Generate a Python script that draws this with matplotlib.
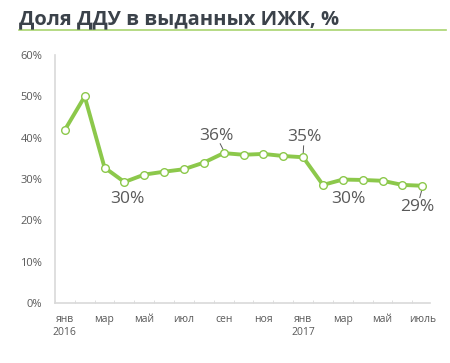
import numpy as np
import matplotlib.pyplot as plt
from matplotlib.lines import Line2D

plt.rcParams['font.family'] = ['Open Sans', 'DejaVu Sans']

months = ["янв\n2016", "фев", "мар", "апр", "май", "июн", "июл", "авг", "сен", "окт", "ноя", "дек",
          "янв\n2017", "фев", "мар", "апр", "май", "июн", "июль"]
share = [41.9, 50.0, 32.8, 29.3, 31.1, 31.8, 32.4, 34.0, 36.3, 35.9, 36.1, 35.6,
         35.3, 28.6, 29.9, 29.8, 29.6, 28.6, 28.4]
# (index, text, dx, dy in data units, leader)
labels = [(3, "30%", 0.15, -4.2, False), (8, "36%", -0.35, 4.1, True),
          (12, "35%", 0.05, 5.0, True), (14, "30%", 0.3, -4.7, False),
          (18, "29%", -0.25, -5.2, True)]

green = "#8cc84b"
grey = "#595959"

fig = plt.figure(figsize=(4.5, 3.63), dpi=100)
ax = fig.add_axes([0.122, 0.165, 0.834, 0.683])

x = np.arange(len(share))
ax.plot(x, share, color=green, lw=2.8, marker="o", ms=5.5, mfc="white", mec=green, mew=1.0, zorder=3)

for i, txt, dx, dy, leader in labels:
    ax.text(i + dx, share[i] + dy, txt, ha="center", va="center", fontsize=12.5, color=grey)
    if leader:
        ax.plot([i + dx * 0.5, i], [share[i] + dy * 0.55, share[i] + 0.6 * np.sign(dy)],
                color=grey, lw=0.7, zorder=2)

ax.set_xlim(-0.5, 18.4)
ax.set_ylim(0, 60)
ax.set_yticks(range(0, 61, 10))
ax.set_yticklabels([f"{v}%" for v in range(0, 61, 10)], fontsize=8, color=grey)
ax.set_xticks(x[::2])
ax.set_xticklabels(months[::2], fontsize=7.5, color=grey, linespacing=1.25)
ax.set_xticks(np.arange(-0.5, 18.5, 1), minor=True)
ax.tick_params(axis="x", which="major", length=0, pad=8)
ax.tick_params(axis="x", which="minor", length=2.5, direction="in", color="#d9d9d9")
ax.tick_params(axis="y", length=0, pad=9)
for s in ["top", "right"]:
    ax.spines[s].set_visible(False)
for s in ["left", "bottom"]:
    ax.spines[s].set_color("#d9d9d9")
    ax.spines[s].set_linewidth(1.2)

fig.text(0.042, 0.948, "Доля ДДУ в выданных ИЖК, %", fontsize=14.5, fontweight="bold",
         color="#3b424a", va="center", ha="left")
fig.add_artist(Line2D([0.042, 0.99], [0.917, 0.917], color="#a9d46f", lw=1.2))

fig.savefig("out.png", dpi=100)
